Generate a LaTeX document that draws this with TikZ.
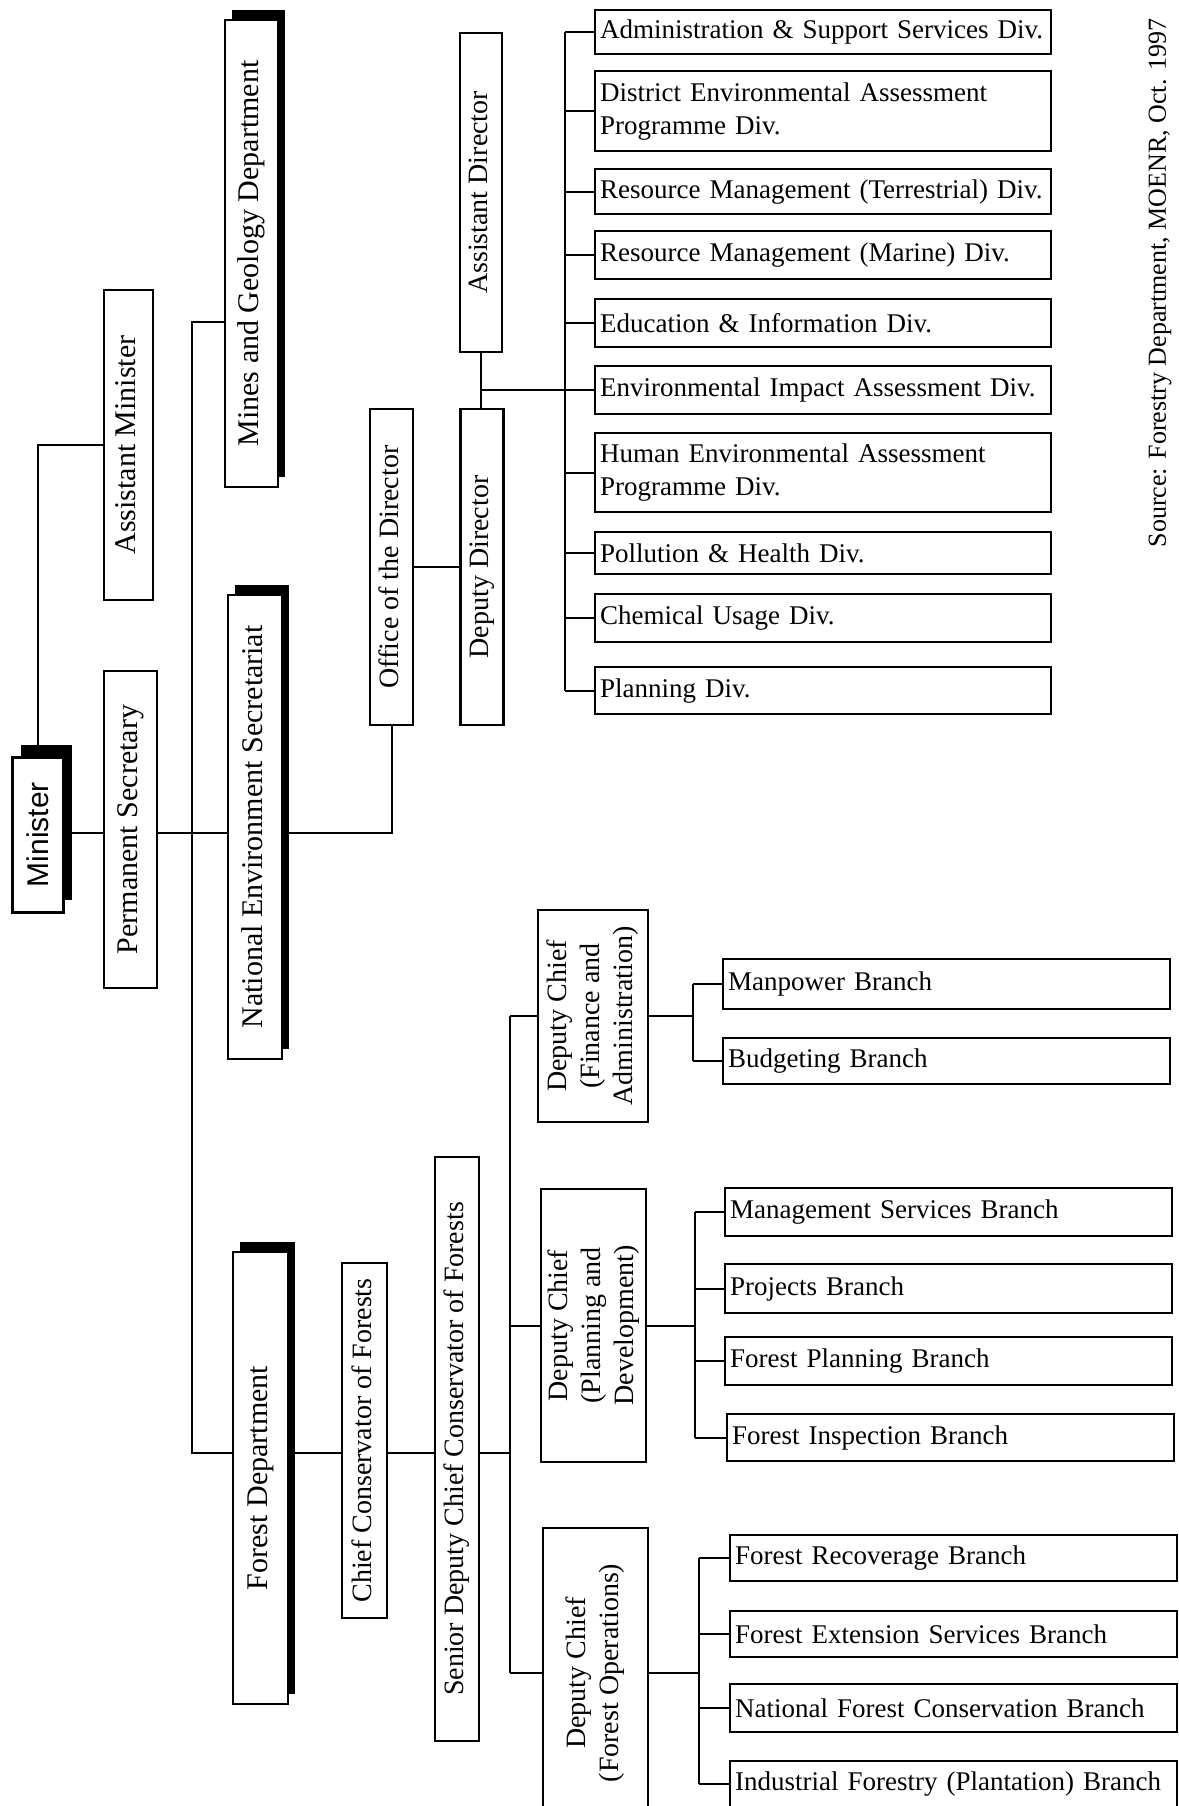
\documentclass[tikz,border=0pt]{standalone}
\usepackage{fontspec}
\setmainfont{Liberation Serif}
\newfontfamily\minfont{Liberation Sans}
\usepackage{graphicx}
\usetikzlibrary{shadows}
\newcommand{\vt}[1]{\rotatebox{90}{\begin{tabular}{@{}c@{}}#1\end{tabular}}}

\begin{document}
\begin{tikzpicture}[x=1pt, y=-1pt,
	conn/.style={line width=2pt},
	vbox/.style={draw, line width=2.2pt, fill=white, inner sep=0pt, font=\fontsize{28}{33}\selectfont},
	topbox/.style={vbox, font=\fontsize{30}{35}\selectfont},
	shadowed/.style={drop shadow={shadow xshift=7pt, shadow yshift=10pt, fill=black, opacity=1}},
	hbox/.style={draw, line width=2.2pt, anchor=north west, inner xsep=5pt, inner ysep=0pt, align=left, font=\fontsize{27}{33}\selectfont},
	divbox/.style={hbox, text width=446pt},
	brbox/.style={hbox, text width=437pt}]
		\useasboundingbox (0,0) rectangle (1178,1806);
		%Ministry
		\node[vbox, line width=3pt, drop shadow={shadow xshift=9pt, shadow yshift=12pt, fill=black, opacity=1}, minimum width=51pt, minimum height=155pt] (min) at (37.5,834.5) {\rotatebox{90}{\fontsize{30}{35}\minfont Minister}};
		\node[topbox, minimum width=49pt, minimum height=310pt] (am) at (128.5,445) {\vt{Assistant Minister}};
		\node[topbox, minimum width=53pt, minimum height=317pt] (ps) at (130.5,829.5) {\vt{Permanent Secretary}};
		\node[topbox, shadowed, minimum width=53pt, minimum height=467pt] (mines) at (251.5,253.5) {\vt{Mines and Geology Department}};
		\node[topbox, shadowed, minimum width=54pt, minimum height=464pt] (nes) at (255,827) {\vt{National Environment Secretariat}};
		\node[topbox, shadowed, minimum width=55pt, minimum height=452pt] (fd) at (260.5,1478) {\vt{Forest Department}};
		%Secretariat
		\node[vbox, minimum width=43pt, minimum height=316pt] (office) at (391.5,567) {\vt{Office of the Director}};
		\node[vbox, minimum width=43pt, minimum height=316pt] (dd) at (482,567) {\vt{Deputy Director}};
		\node[vbox, minimum width=42pt, minimum height=319pt] (ad) at (481,192.5) {\vt{Assistant Director}};
		\node[divbox, minimum height=44pt] (d1) at (594,9) {Administration \& Support Services Div.};
		\node[divbox, minimum height=80pt] (d2) at (594,70) {District Environmental Assessment\\Programme Div.};
		\node[divbox, minimum height=45pt] (d3) at (594,168) {Resource Management (Terrestrial) Div.};
		\node[divbox, minimum height=48pt] (d4) at (594,230) {Resource Management (Marine) Div.};
		\node[divbox, minimum height=48pt] (d5) at (594,298) {Education \& Information Div.};
		\node[divbox, minimum height=48pt] (d6) at (594,365) {Environmental Impact Assessment Div.};
		\node[divbox, minimum height=79pt] (d7) at (594,432) {Human Environmental Assessment\\Programme Div.};
		\node[divbox, minimum height=42pt] (d8) at (594,531) {Pollution \& Health Div.};
		\node[divbox, minimum height=48pt] (d9) at (594,593) {Chemical Usage Div.};
		\node[divbox, minimum height=47pt] (d10) at (594,666) {Planning Div.};
		%Forest Department
		\node[vbox, minimum width=45pt, minimum height=355pt] (ccf) at (364.5,1440.5) {\vt{Chief Conservator of Forests}};
		\node[vbox, minimum width=44pt, minimum height=584pt] (sd) at (457,1449) {\vt{Senior Deputy Chief Conservator of Forests}};
		\node[vbox, minimum width=110pt, minimum height=212pt] (dcfa) at (593,1016) {\vt{Deputy Chief\\(Finance and\\Administration)}};
		\node[vbox, minimum width=105pt, minimum height=273pt] (dcpd) at (593.5,1325.5) {\vt{Deputy Chief\\(Planning and\\Development)}};
		\node[vbox, minimum width=105pt, minimum height=290pt] (dcfo) at (595.5,1673) {\vt{Deputy Chief\\(Forest Operations)}};
		\node[brbox, minimum height=50pt] (b1) at (722,958) {Manpower Branch};
		\node[brbox, minimum height=46pt] (b2) at (722,1037) {Budgeting Branch};
		\node[brbox, minimum height=48pt] (b3) at (724,1187) {Management Services Branch};
		\node[brbox, minimum height=49pt] (b4) at (724,1263) {Projects Branch};
		\node[brbox, minimum height=48pt] (b5) at (724,1336) {Forest Planning Branch};
		\node[brbox, minimum height=47pt] (b6) at (726,1413) {Forest Inspection Branch};
		\node[brbox, minimum height=46pt] (b7) at (729,1534) {Forest Recoverage Branch};
		\node[brbox, minimum height=46pt] (b8) at (729,1610) {Forest Extension Services Branch};
		\node[brbox, minimum height=48pt] (b9) at (729,1683) {National Forest Conservation Branch};
		\node[brbox, minimum height=46pt] (b10) at (729,1760) {Industrial Forestry (Plantation) Branch};
		%Source
		\node[rotate=90, font=\fontsize{26}{30}\selectfont] (src) at (1160,283) {Source: Forestry Department, MOENR, Oct. 1997};
		%Lines
		\coordinate (bustop) at (192,322);
		\coordinate (busmid) at (192,833);
		\coordinate (busbot) at (192,1453);
		\coordinate (dvb) at (565,0);
		\coordinate (fdb) at (510,0);
		\draw[conn] (min.north) |- (am.west);
		\draw[conn] (min.east |- busmid) -- (ps.west |- busmid);
		\draw[conn] (ps.east |- busmid) -- (nes.west |- busmid);
		\draw[conn] (mines.west |- bustop) -- (bustop) -- (busbot) -- (fd.west |- busbot);
		\draw[conn] (nes.east |- busmid) -| (office.south);
		\draw[conn] (office.east) -- (dd.west);
		\draw[conn] (ad.south) -- (ad.south |- dd.north);
		\draw[conn] (ad.south |- d6.west) -- (d6.west);
		\draw[conn] (dvb |- d1.west) -- (dvb |- d10.west);
		\foreach \i in {1,...,10}
			\draw[conn] (dvb |- d\i.west) -- (d\i.west);
		\draw[conn] (fd.east |- busbot) -- (ccf.west |- busbot);
		\draw[conn] (ccf.east |- busbot) -- (sd.west |- busbot);
		\draw[conn] (sd.east |- busbot) -- (fdb |- busbot);
		\draw[conn] (fdb |- dcfa.west) -- (fdb |- dcfo.west);
		\foreach \d in {dcfa,dcpd,dcfo}
			\draw[conn] (fdb |- \d.west) -- (\d.west);
		%Branches
		\draw[conn] (dcfa.east) -- (693,1016);
		\draw[conn] (693,0 |- b1.west) -- (693,0 |- b2.west);
		\foreach \i in {1,2}
			\draw[conn] (693,0 |- b\i.west) -- (b\i.west);
		\draw[conn] (dcpd.east) -- (695,1325.5);
		\draw[conn] (695,0 |- b3.west) -- (695,0 |- b6.west);
		\foreach \i in {3,...,6}
			\draw[conn] (695,0 |- b\i.west) -- (b\i.west);
		\draw[conn] (dcfo.east) -- (699,1673);
		\draw[conn] (699,0 |- b7.west) -- (699,0 |- b10.west);
		\foreach \i in {7,...,10}
			\draw[conn] (699,0 |- b\i.west) -- (b\i.west);
	\end{tikzpicture}
\end{document}
